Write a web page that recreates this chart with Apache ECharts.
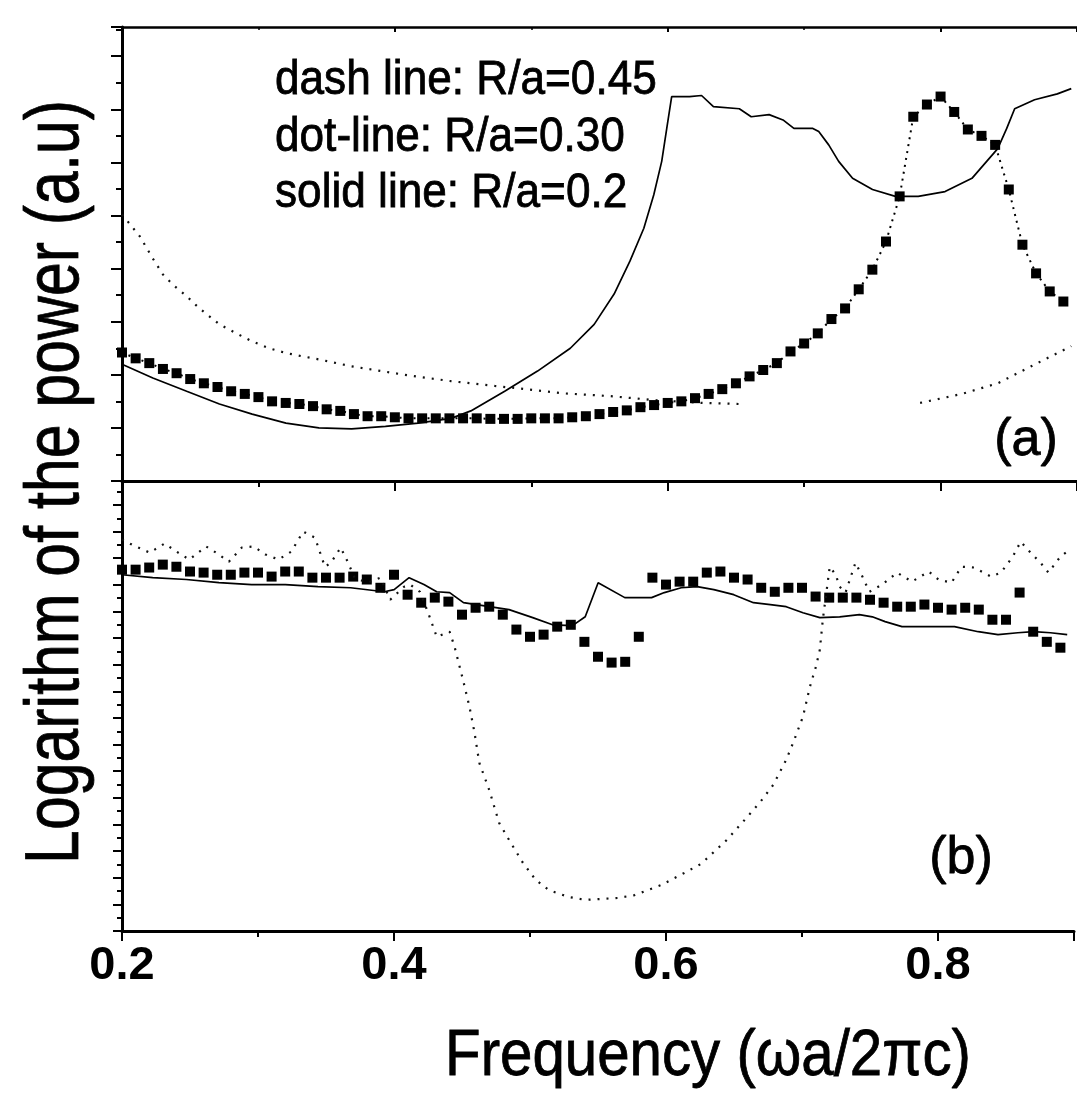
<!DOCTYPE html>
<html>
<head>
<meta charset="utf-8">
<script src="https://cdn.jsdelivr.net/npm/echarts@6/dist/echarts.min.js"></script>
<style>
html,body{margin:0;padding:0;background:#fff;}
#c{width:1077px;height:1093px;}
</style>
</head>
<body>
<div id="c"></div>
<script>
// ---------- DATA ----------
const xTickLabels = ['0.2', '0.4', '0.6', '0.8'];
const legendLines = ['dash line: R/a=0.45', 'dot-line: R/a=0.30', 'solid line: R/a=0.2'];
const panelLabels = ['(a)', '(b)'];
const yTitle = 'Logarithm of the power (a.u)';
const xTitle = 'Frequency (\u03c9a/2\u03c0c)';

// frequencies of the square markers (dot-line, R/a=0.30)
const sqFreq = [0.20,0.21,0.22,0.23,0.24,0.25,0.26,0.27,0.28,0.29,
                0.30,0.31,0.32,0.33,0.34,0.35,0.36,0.37,0.38,0.39,
                0.40,0.41,0.42,0.43,0.44,0.45,0.46,0.47,0.48,0.49,
                0.50,0.51,0.52,0.53,0.54,0.55,0.56,0.57,0.58,0.59,
                0.60,0.61,0.62,0.63,0.64,0.65,0.66,0.67,0.68,0.69,
                0.70,0.71,0.72,0.73,0.74,0.75,0.76,0.77,0.78,0.79,
                0.80,0.81,0.82,0.83,0.84,0.85,0.86,0.87,0.88,0.89];

// panel (a)
const sqA = [2.42,2.31,2.22,2.11,2.03,1.92,1.84,1.77,1.69,1.64,
             1.58,1.50,1.47,1.45,1.41,1.35,1.32,1.26,1.22,1.22,
             1.20,1.18,1.18,1.18,1.18,1.18,1.18,1.17,1.17,1.17,
             1.18,1.18,1.18,1.20,1.22,1.26,1.30,1.33,1.39,1.43,
             1.47,1.50,1.56,1.64,1.73,1.84,1.97,2.09,2.22,2.44,
             2.59,2.78,3.05,3.25,3.61,3.98,4.51,5.36,6.86,7.09,
             7.24,6.95,6.62,6.50,6.33,5.49,4.45,3.91,3.57,3.38];

const solidA = [[0.200,2.20],[0.2226,1.94],[0.2474,1.69],[0.2714,1.45],[0.2954,1.26],[0.3202,1.09],
  [0.3443,1.00],[0.3683,0.98],[0.3931,1.03],[0.4171,1.09],[0.4412,1.18],[0.4557,1.32],[0.4805,1.69],
  [0.5046,2.07],[0.5286,2.50],[0.5461,2.95],[0.5607,3.52],[0.5723,4.14],[0.5825,4.76],[0.5898,5.39],
  [0.5956,6.02],[0.5993,6.64],[0.6029,7.24],[0.6160,7.24],[0.6248,7.26],[0.6335,7.05],[0.6525,7.01],
  [0.6612,6.86],[0.6743,6.90],[0.6845,6.80],[0.6925,6.64],[0.7064,6.64],[0.7107,6.58],[0.7180,6.33],
  [0.7253,6.02],[0.7355,5.70],[0.7501,5.49],[0.7669,5.36],[0.7836,5.36],[0.8033,5.45],[0.8230,5.70],
  [0.8419,6.26],[0.8485,6.64],[0.8543,7.01],[0.8689,7.18],[0.8856,7.29],[0.8958,7.39]];

const dashA1 = [[0.200,5.02],[0.213,4.61],[0.2226,4.19],[0.230,3.89],[0.2372,3.70],[0.2474,3.48],
  [0.2568,3.25],[0.2714,2.95],[0.2838,2.78],[0.2954,2.63],[0.3078,2.50],[0.3202,2.41],[0.3319,2.35],
  [0.3443,2.29],[0.3683,2.16],[0.3902,2.07],[0.4098,1.99],[0.4412,1.88],[0.4732,1.79],[0.4958,1.73],
  [0.5242,1.65],[0.557,1.60],[0.592,1.52],[0.6262,1.47],[0.6525,1.45]];
const dashA2 = [[0.785,1.47],[0.8157,1.64],[0.8419,1.84],[0.871,2.22],[0.8958,2.54]];

// panel (b)
const sqB = [13.57,13.57,13.65,13.76,13.68,13.50,13.46,13.38,13.38,13.46,
             13.46,13.31,13.50,13.50,13.27,13.27,13.27,13.31,13.20,12.89,
             13.38,12.63,12.33,12.52,12.37,11.88,12.14,12.18,11.88,11.32,
             11.05,11.13,11.43,11.50,10.86,10.30,10.08,10.11,11.05,13.27,
             13.01,13.12,13.12,13.46,13.50,13.27,13.20,12.89,12.74,12.89,
             12.89,12.56,12.52,12.52,12.52,12.44,12.33,12.18,12.18,12.26,
             12.14,12.07,12.14,12.07,11.69,11.69,12.71,11.24,10.86,10.64];

const solidB = [[0.200,13.38],[0.2226,13.27],[0.2473,13.20],[0.2713,13.08],[0.2953,13.01],[0.3201,13.01],
  [0.3441,12.93],[0.3681,12.89],[0.3928,12.74],[0.4001,12.82],[0.4111,13.27],[0.4220,13.01],[0.4314,12.74],
  [0.4409,12.71],[0.4511,12.33],[0.4606,12.26],[0.4846,12.07],[0.5020,11.77],[0.5166,11.50],[0.5312,11.47],
  [0.5406,11.80],[0.5501,13.08],[0.5697,12.52],[0.5894,12.52],[0.5988,12.71],[0.6112,12.89],[0.6229,12.93],
  [0.6352,12.82],[0.6498,12.63],[0.6643,12.33],[0.6767,12.26],[0.6884,12.18],[0.7007,11.95],[0.7131,11.77],
  [0.7277,11.80],[0.7422,11.88],[0.7517,11.80],[0.7611,11.62],[0.7735,11.43],[0.7975,11.43],[0.8121,11.43],
  [0.8296,11.24],[0.8441,11.13],[0.8587,11.20],[0.8703,11.24],[0.8827,11.20],[0.8950,11.13]];

const dashB = [[0.200,14.70],[0.2073,14.51],[0.2204,14.21],[0.2313,14.55],[0.2400,14.25],[0.2495,13.95],
  [0.2619,14.44],[0.2691,14.21],[0.2786,13.87],[0.2881,14.40],[0.2968,14.44],[0.3055,14.14],[0.3150,13.95],
  [0.3245,14.25],[0.3332,15.00],[0.3419,14.77],[0.3492,13.68],[0.3536,13.83],[0.3608,14.40],[0.3659,13.87],
  [0.3710,13.27],[0.3805,13.08],[0.3900,13.27],[0.3972,12.44],[0.4074,12.93],[0.4118,13.01],[0.4191,12.74],
  [0.4256,11.88],[0.4314,11.05],[0.4409,11.24],[0.4445,10.68],[0.4511,9.36],[0.4555,8.42],[0.4591,7.48],
  [0.4627,6.32],[0.4700,5.30],[0.4773,4.06],[0.4846,3.42],[0.4948,2.56],[0.5042,1.92],[0.5137,1.54],
  [0.5282,1.28],[0.5406,1.17],[0.5646,1.24],[0.5770,1.35],[0.5967,1.73],[0.6134,2.18],[0.6258,2.52],
  [0.6447,3.42],[0.6592,4.25],[0.6694,4.85],[0.6789,5.49],[0.6884,6.43],[0.6935,7.07],[0.7007,8.05],
  [0.7058,9.17],[0.7102,9.92],[0.7131,10.56],[0.7153,11.69],[0.7204,13.68],[0.7248,13.38],[0.7277,12.93],
  [0.7320,12.71],[0.7393,13.83],[0.7444,13.31],[0.7495,12.74],[0.7590,13.01],[0.7699,13.46],[0.7808,13.12],
  [0.7932,13.50],[0.8004,13.20],[0.8099,13.08],[0.8172,13.68],[0.8266,13.65],[0.8390,13.31],[0.8463,13.46],
  [0.8550,14.06],[0.8608,14.62],[0.8681,14.21],[0.8754,13.83],[0.8812,13.46],[0.8900,14.06],[0.8950,14.25]];

// ---------- CHART ----------
const FONT = '"Liberation Sans", Arial, sans-serif';
const chart = echarts.init(document.getElementById('c'), null, {renderer: 'canvas'});

function pairs(xs, ys) { return xs.map((x, i) => [x, ys[i]]); }

const xBase = {
  type: 'value', min: 0.2, max: 0.9, interval: 0.2,
  splitLine: {show: false},
  axisLine: {onZero: false, lineStyle: {color: '#000', width: 3}},
  axisTick: {length: 10, lineStyle: {color: '#000', width: 2}},
  minorTick: {show: true, splitNumber: 2, length: 6, lineStyle: {color: '#000', width: 2}},
  axisLabel: {show: false}
};
const yBase = {
  type: 'value', min: 0, interval: 1,
  splitLine: {show: false},
  axisLine: {onZero: false, lineStyle: {color: '#000', width: 3}},
  axisTick: {length: 11, lineStyle: {color: '#000', width: 2}},
  minorTick: {show: true, splitNumber: 2, length: 6, lineStyle: {color: '#000', width: 2}},
  axisLabel: {show: false}
};

const solidStyle = {color: '#000', width: 1.7, type: 'solid'};
const dashStyle = {color: '#111', width: 2.2, type: [2, 7]};
const sqLine = {color: '#000', width: 2, type: [2, 5]};

function txt(text, size, extra) {
  return Object.assign({text: text, font: size + 'px ' + FONT, fill: '#000', stroke: '#000', lineWidth: 0.8}, extra || {});
}

const option = {
  animation: false,
  backgroundColor: '#fff',
  grid: [
    {left: 122, right: -7, top: 27, height: 454},
    {left: 122, right: -7, top: 481, height: 450}
  ],
  xAxis: [
    Object.assign({}, xBase, {gridIndex: 0, position: 'bottom'}),
    Object.assign({}, xBase, {gridIndex: 0, position: 'top',
      axisLine: {onZero: false, lineStyle: {color: '#000', width: 2.5}},
      axisTick: {inside: true, length: 5, lineStyle: {color: '#000', width: 2}},
      minorTick: {show: true, splitNumber: 2, length: 3, lineStyle: {color: '#000', width: 1.5}}}),
    Object.assign({}, xBase, {gridIndex: 1, position: 'bottom',
      axisLabel: {show: true, fontFamily: FONT, fontSize: 47, fontWeight: 'bold', color: '#000', margin: 12,
        formatter: v => { const s = v.toFixed(1); return xTickLabels.indexOf(s) >= 0 && Math.abs(v - parseFloat(s)) < 1e-6 ? s : ''; }}})
  ],
  yAxis: [
    Object.assign({}, yBase, {gridIndex: 0, max: 8.55}),
    Object.assign({}, yBase, {gridIndex: 1, max: 16.9, axisTick: {length: 9, lineStyle: {color: '#000', width: 2}},
      minorTick: {show: true, splitNumber: 2, length: 5, lineStyle: {color: '#000', width: 2}}})
  ],
  series: [
    {type: 'line', name: 'dashA1', xAxisIndex: 0, yAxisIndex: 0, data: dashA1, symbol: 'none', lineStyle: dashStyle},
    {type: 'line', name: 'dashA2', xAxisIndex: 0, yAxisIndex: 0, data: dashA2, symbol: 'none', lineStyle: dashStyle},
    {type: 'line', name: 'solidA', xAxisIndex: 0, yAxisIndex: 0, data: solidA, symbol: 'none', lineStyle: solidStyle},
    {type: 'line', name: 'sqA', xAxisIndex: 0, yAxisIndex: 0, data: pairs(sqFreq, sqA), symbol: 'rect', symbolSize: 10,
      itemStyle: {color: '#000', opacity: 1}, lineStyle: sqLine},
    {type: 'line', name: 'dashB', xAxisIndex: 2, yAxisIndex: 1, data: dashB, symbol: 'none', lineStyle: dashStyle},
    {type: 'line', name: 'solidB', xAxisIndex: 2, yAxisIndex: 1, data: solidB, symbol: 'none', lineStyle: solidStyle},
    {type: 'scatter', name: 'sqB', xAxisIndex: 2, yAxisIndex: 1, data: pairs(sqFreq, sqB), symbol: 'rect', symbolSize: 10,
      itemStyle: {color: '#000', opacity: 1}}
  ],
  graphic: [
    {type: 'text', x: 275, y: 81, scaleX: 0.92, style: txt(legendLines[0], 48, {textVerticalAlign: 'middle'})},
    {type: 'text', x: 275, y: 138, scaleX: 0.92, style: txt(legendLines[1], 48, {textVerticalAlign: 'middle'})},
    {type: 'text', x: 275, y: 194, scaleX: 0.92, style: txt(legendLines[2], 48, {textVerticalAlign: 'middle'})},
    {type: 'text', x: 1026, y: 441, style: txt(panelLabels[0], 52, {textAlign: 'center', textVerticalAlign: 'middle'})},
    {type: 'text', x: 961, y: 859, style: txt(panelLabels[1], 52, {textAlign: 'center', textVerticalAlign: 'middle'})},
    {type: 'text', x: 57, y: 482, rotation: Math.PI / 2, scaleX: 0.8,
      style: txt(yTitle, 76, {textAlign: 'center', textVerticalAlign: 'middle'})},
    {type: 'text', x: 708, y: 1057, scaleX: 0.91,
      style: txt(xTitle, 64, {textAlign: 'center', textVerticalAlign: 'middle'})}
  ]
};
chart.setOption(option);
</script>
</body>
</html>
